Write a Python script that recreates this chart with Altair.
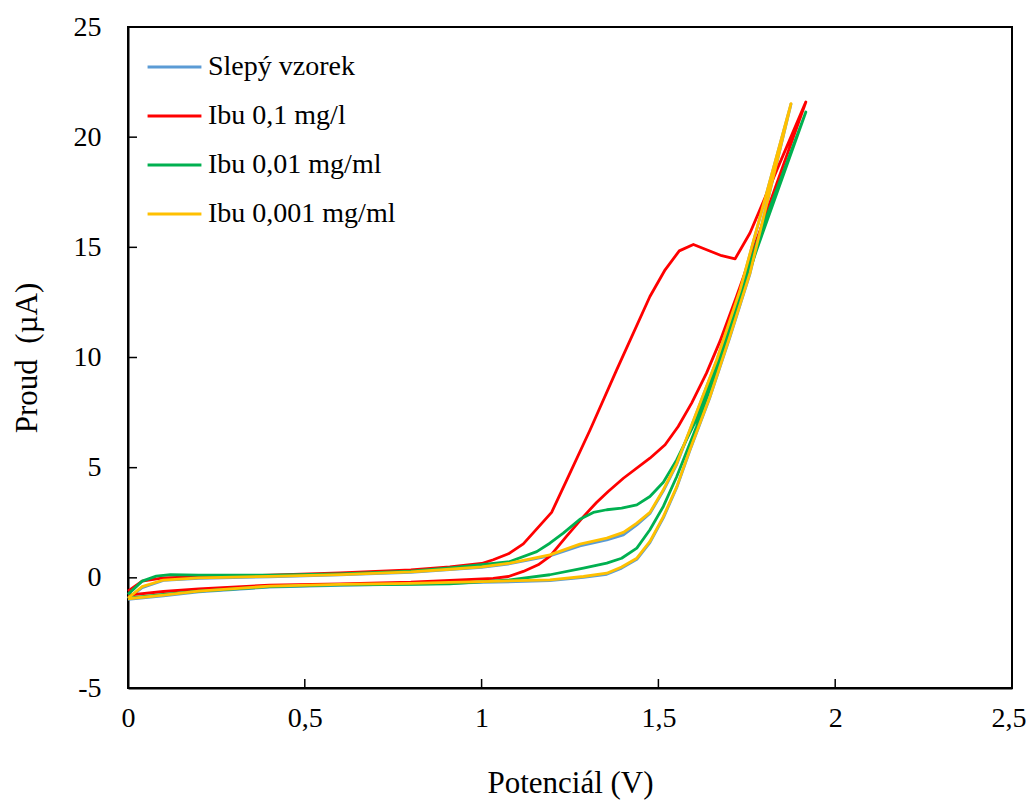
import altair as alt
import pandas as pd

# ---- data (potential V, current µA), path order ----
series_names = ["Slepý vzorek", "Ibu 0,1 mg/l", "Ibu 0,01 mg/ml", "Ibu 0,001 mg/ml"]
series_colors = ["#5B9BD5", "#FF0000", "#00B050", "#FFC000"]

blue_x = [0, 0.04, 0.1, 0.2, 0.4, 0.6, 0.8, 0.91, 1.0, 1.08, 1.193, 1.278, 1.354, 1.401, 1.439, 1.476,
          1.514, 1.552, 1.589, 1.665, 1.731, 1.875,
          1.759, 1.702, 1.646, 1.589, 1.552, 1.514, 1.476, 1.439, 1.396, 1.354, 1.288, 1.193, 1.0, 0.91,
          0.8, 0.6, 0.4, 0.2, 0.1, 0]
blue_y = [-0.95, -0.45, -0.12, -0.02, 0.05, 0.13, 0.25, 0.37, 0.48, 0.64, 1.0, 1.45, 1.72, 1.95, 2.4, 2.92,
          3.95, 5.15, 6.7, 9.88, 13.05, 21.5,
          13.8, 10.9, 8.2, 5.78, 4.1, 2.72, 1.6, 0.84, 0.44, 0.16, 0.02, -0.13, -0.21, -0.25,
          -0.29, -0.34, -0.42, -0.64, -0.82, -0.98]

red_x = [0, 0.04, 0.1, 0.2, 0.4, 0.6, 0.8, 0.91, 1.0, 1.033, 1.076, 1.118, 1.198, 1.241, 1.307, 1.382,
         1.476, 1.519, 1.559, 1.599, 1.679, 1.717, 1.759, 1.917,
         1.768, 1.721, 1.674, 1.636, 1.594, 1.556, 1.519, 1.476, 1.401, 1.358, 1.325, 1.288, 1.24,
         1.193, 1.16, 1.118, 1.076, 1.033, 0.91, 0.8, 0.6, 0.4, 0.2, 0.1, 0]
red_y = [-0.6, -0.15, 0.0, 0.05, 0.12, 0.22, 0.36, 0.5, 0.65, 0.82, 1.09, 1.54, 2.97, 4.45, 6.72, 9.44,
         12.77, 13.98, 14.84, 15.13, 14.62, 14.48, 15.65, 21.6,
         14.89, 12.77, 10.73, 9.29, 7.93, 6.87, 6.04, 5.43, 4.52, 3.92, 3.42, 2.78, 1.88,
         0.97, 0.59, 0.29, 0.06, -0.02, -0.12, -0.2, -0.27, -0.33, -0.5, -0.62, -0.78]

green_x = [0, 0.04, 0.08, 0.12, 0.2, 0.4, 0.6, 0.8, 0.91, 1.0, 1.08, 1.156, 1.193, 1.231, 1.278, 1.316,
           1.354, 1.396, 1.439, 1.476, 1.514, 1.552, 1.608, 1.665, 1.721, 1.778, 1.917,
           1.778, 1.721, 1.665, 1.608, 1.552, 1.514, 1.476, 1.439, 1.396, 1.354, 1.288, 1.193, 1.08,
           0.91, 0.8, 0.6, 0.4, 0.2, 0.1, 0]
green_y = [-0.75, -0.15, 0.08, 0.15, 0.12, 0.12, 0.18, 0.3, 0.45, 0.6, 0.74, 1.19, 1.57, 2.03, 2.66, 2.97,
           3.09, 3.16, 3.31, 3.69, 4.34, 5.36, 7.2, 9.8, 12.5, 15.2, 21.14,
           14.89, 12.17, 9.44, 6.87, 4.6, 3.24, 2.18, 1.35, 0.89, 0.67, 0.44, 0.14, -0.09,
           -0.27, -0.3, -0.32, -0.4, -0.6, -0.75, -0.92]

yellow_x = [0, 0.04, 0.1, 0.2, 0.4, 0.6, 0.8, 0.91, 1.0, 1.08, 1.193, 1.278, 1.354, 1.401, 1.439, 1.476,
            1.514, 1.552, 1.589, 1.665, 1.731, 1.875,
            1.759, 1.702, 1.646, 1.589, 1.552, 1.514, 1.476, 1.439, 1.396, 1.354, 1.288, 1.193, 1.0, 0.91,
            0.8, 0.6, 0.4, 0.2, 0.1, 0]
yellow_y = [-0.92, -0.4, -0.1, 0.0, 0.07, 0.15, 0.27, 0.39, 0.5, 0.67, 1.04, 1.53, 1.8, 2.06, 2.48, 2.97,
            4.0, 5.2, 6.72, 9.9, 13.07, 21.52,
            13.83, 10.95, 8.23, 5.81, 4.14, 2.78, 1.65, 0.89, 0.49, 0.21, 0.06, -0.09, -0.17, -0.21,
            -0.25, -0.3, -0.38, -0.6, -0.78, -0.95]

x_ticks = [0, 0.5, 1, 1.5, 2, 2.5]
y_ticks = [-5, 0, 5, 10, 15, 20, 25]

FONT = "Liberation Serif"

rows = []
for name, xs, ys in zip(series_names,
                        [blue_x, red_x, green_x, yellow_x],
                        [blue_y, red_y, green_y, yellow_y]):
    for i, (xv, yv) in enumerate(zip(xs, ys)):
        rows.append({"series": name, "idx": i, "E": xv, "I": yv})
df = pd.DataFrame(rows)

W, H = 884, 661

xscale = alt.Scale(domain=[0, 2.5], nice=False, zero=False)
yscale = alt.Scale(domain=[-5, 25], nice=False, zero=False)
color_scale = alt.Scale(domain=series_names, range=series_colors)

label_expr = "replace(toString(datum.value), '.', ',')"

x_axis = alt.Axis(title="Potenciál (V)", values=x_ticks, labelExpr=label_expr, ticks=False,
                  grid=False, domainColor="black", domainWidth=2, labelFont=FONT, labelFontSize=28,
                  labelColor="black", labelPadding=16, titleFont=FONT, titleFontSize=31,
                  titleFontWeight="normal", titleColor="black", titlePadding=36, labelFlush=False,
                  labelAlign=alt.condition("datum.value >= 2.5", alt.value("right"), alt.value("center")),
                  labelOffset=alt.condition("datum.value >= 2.5", alt.value(14), alt.value(0)))
y_axis = alt.Axis(title="Proud\u00a0 (µA)", values=y_ticks, labelExpr=label_expr, ticks=False,
                  grid=False, domainColor="black", domainWidth=2, labelFont=FONT, labelFontSize=28,
                  labelColor="black", labelPadding=27, titleFont=FONT, titleFontSize=31,
                  titleFontWeight="normal", titleColor="black", titlePadding=30, labelFlush=False)

legend = alt.Legend(orient="none", legendX=18, legendY=16, title=None, symbolType="stroke",
                    symbolSize=2900, symbolStrokeWidth=3, labelFont=FONT, labelFontSize=28,
                    labelColor="black", labelOffset=5, rowPadding=1, clipHeight=48,
                    padding=0, labelLimit=500)

layers = []
for k, name in enumerate(series_names):
    layers.append(
        alt.Chart(df).transform_filter(alt.datum.series == name)
        .mark_line(strokeWidth=2.8, strokeJoin="round")
        .encode(
            x=alt.X("E:Q", scale=xscale, axis=x_axis),
            y=alt.Y("I:Q", scale=yscale, axis=y_axis),
            color=alt.Color("series:N", scale=color_scale, legend=legend),
            order=alt.Order("idx:Q"),
        )
    )

# inward tick marks
ytick_df = pd.DataFrame({"I": y_ticks})
xtick_df = pd.DataFrame({"E": x_ticks})
ytick_layer = alt.Chart(ytick_df).mark_rule(color="black", strokeWidth=1.5).encode(
    y=alt.Y("I:Q", scale=yscale, axis=y_axis), x=alt.value(0), x2=alt.value(9))
xtick_layer = alt.Chart(xtick_df).mark_rule(color="black", strokeWidth=1.5).encode(
    x=alt.X("E:Q", scale=xscale, axis=x_axis), y=alt.value(H), y2=alt.value(H - 9))

chart = alt.layer(*layers, ytick_layer, xtick_layer).properties(
    width=W, height=H,
    autosize="none",
    background="white",
    padding={"left": 120, "top": 19, "right": 14, "bottom": 113},
).configure_view(stroke="black", strokeWidth=2)

chart.save("out.html", embed_options={"renderer": "svg", "actions": False})
